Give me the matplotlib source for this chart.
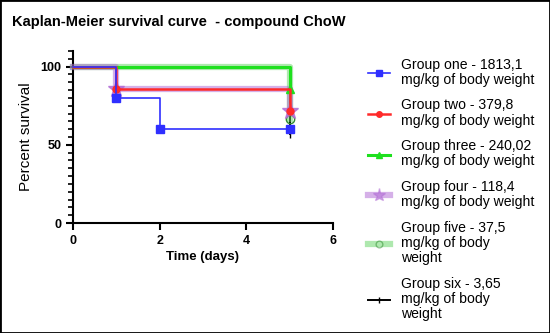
import matplotlib
matplotlib.use("Agg")
import matplotlib.pyplot as plt
from matplotlib.lines import Line2D
from matplotlib.patches import Rectangle
from matplotlib.ticker import MultipleLocator

plt.rcParams['font.family'] = ['Liberation Sans', 'DejaVu Sans']

# survival data (days, percent survival)
days_one = [0, 1, 2, 5]
surv_one = [100, 80, 60, 60]
days_two = [0, 1, 5]
surv_two = [100, 85.7, 71.4]
days_three = [0, 5]
surv_three = [100, 85.7]
days_four = [0, 1, 5]
surv_four = [100, 85.7, 71.4]
days_five = [0, 5]
surv_five = [100, 66.7]
days_six = [0, 5]
surv_six = [100, 57.1]

labels = [
    "Group one - 1813,1\nmg/kg of body weight",
    "Group two - 379,8\nmg/kg of body weight",
    "Group three - 240,02\nmg/kg of body weight",
    "Group four - 118,4\nmg/kg of body weight",
    "Group five - 37,5\nmg/kg of body\nweight",
    "Group six - 3,65\nmg/kg of body\nweight",
]

fig = plt.figure(figsize=(5.5, 3.33), dpi=100)
ax = fig.add_axes([73/550, 1-223/333, 260/550, 172/333])

# style per group
styles = [
    dict(color='#2f2fff', lw=1.2, alpha=1.0, marker='s', ms=6, mfc='#2f2fff', z=6),
    dict(color='#ff2a2a', lw=1.8, alpha=1.0, marker='o', ms=5, mfc='#ff2a2a', z=5),
    dict(color='#1ee01e', lw=2.2, alpha=1.0, marker='^', ms=6, mfc='#1ee01e', z=4),
    dict(color='#b36fd6', lw=4.5, alpha=0.55, marker='*', ms=12, mfc='#b36fd6', z=3),
    dict(color='#5fd35f', lw=4.5, alpha=0.5, marker='o', ms=6, mfc='none', z=2),
    dict(color='black', lw=1.4, alpha=1.0, marker='|', ms=6, mfc='black', z=1),
]
groups = [(days_one, surv_one), (days_two, surv_two), (days_three, surv_three),
          (days_four, surv_four), (days_five, surv_five), (days_six, surv_six)]

handles = []
for (d, s), st, lab in zip(groups, styles, labels):
    ax.step(d, s, where='post', color=st['color'], lw=st['lw'], alpha=st['alpha'],
            zorder=st['z'], clip_on=False)
    mec = '#2e8b2e' if st['mfc'] == 'none' else st['color']
    ax.plot(d[1:], s[1:], linestyle='none', marker=st['marker'], ms=st['ms'],
            mfc=st['mfc'], mec=mec, alpha=1.0 if st['marker'] != '*' else 0.85,
            zorder=st['z'] + 0.5, clip_on=False)
    handles.append(Line2D([], [], color=st['color'], lw=st['lw'], alpha=st['alpha'],
                          marker=st['marker'], ms=st['ms'] * 0.8, mfc=st['mfc'], mec=mec))

ax.set_xlim(0, 6)
ax.set_ylim(0, 110)
ax.set_xticks([0, 2, 4, 6])
ax.set_yticks([0, 50, 100])
ax.yaxis.set_minor_locator(MultipleLocator(5))
for sp in ['top', 'right']:
    ax.spines[sp].set_visible(False)
for sp in ['left', 'bottom']:
    ax.spines[sp].set_linewidth(1.5)
ax.tick_params(which='major', length=5, width=1.5, labelsize=9)
ax.tick_params(which='minor', length=3.5, width=1.2)
for t in ax.get_xticklabels() + ax.get_yticklabels():
    t.set_fontweight('bold')

ax.set_xlabel("Time (days)", fontsize=9.5, fontweight='bold', labelpad=3)
ax.set_ylabel("Percent survival", fontsize=11, labelpad=5)

fig.text(12/550, 1-22/333, "Kaplan-Meier survival curve  - compound ChoW",
         fontsize=10.5, fontweight='bold', va='center', ha='left')

leg = fig.legend(handles, labels, loc='upper left', bbox_to_anchor=(362/550, 1-52/333),
                 frameon=False, fontsize=10.1, handlelength=1.6, handletextpad=0.8,
                 labelspacing=0.84, borderaxespad=0)
for t in leg.get_texts():
    t.set_linespacing(1.1)

fig.patches.append(Rectangle((0, 0), 1, 1, transform=fig.transFigure, fill=False,
                             edgecolor='black', lw=2))

fig.savefig("out.png", dpi=100)
